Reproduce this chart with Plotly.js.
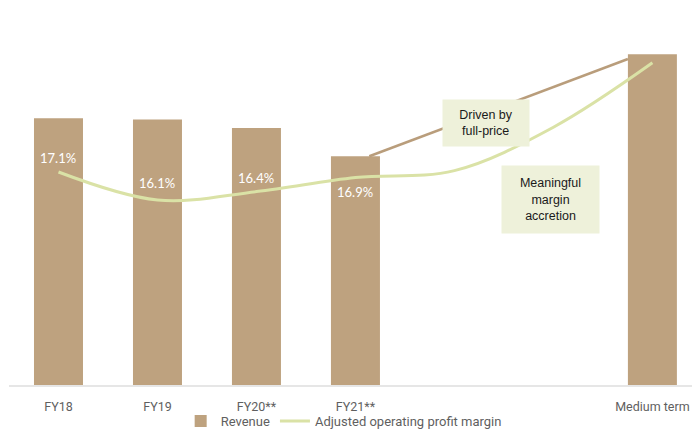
<!DOCTYPE html>
<html>
<head>
<meta charset="utf-8">
<script src="https://cdn.plot.ly/plotly-3.0.1.min.js"></script>
<style>html,body{margin:0;padding:0;background:#fff;}#chart{width:692px;height:429px;}</style>
</head>
<body>
<div id="chart"></div>
<script>
// ---- data ----
const categories = ['FY18', 'FY19', 'FY20**', 'FY21**', '', '', 'Medium term'];
const slots = [0, 1, 2, 3, 4, 5, 6];                        // category slot index
const revenue = [2733, 2720, 2633, 2344, null, null, 3390];   // £m (bar heights)
const margin = [17.1, 16.1, 16.4, 16.9, 17.15, 18.7, 21.0];   // adjusted operating profit margin, % (line as drawn)
const marginLabels = ['17.1%', '16.1%', '16.4%', '16.9%', '', '', ''];
const notes = ['Driven by<br>full-price', 'Meaningful<br>margin<br>accretion'];

// ---- styles ----
const barColor = '#BEA27F';
const lineColor = '#DAE2A6';
const connColor = '#B99D7B';
const labelShift = [14, 17, 14, -14, 0, 0, 0];
const barWidth = 0.495;
const tickVals = slots.filter((s, i) => categories[i] !== '');
const tickText = categories.filter(c => c !== '');

const traces = [
  {
    type: 'bar', name: 'Revenue', x: slots, y: revenue, width: barWidth,
    marker: {color: barColor}, hoverinfo: 'skip'
  },
  {
    type: 'scatter', mode: 'lines', showlegend: false, hoverinfo: 'skip',
    x: [slots[3] + 0.14, slots[6] - barWidth / 2],
    y: [revenue[3], revenue[6] - 50],
    line: {color: connColor, width: 2.5}
  },
  {
    type: 'scatter', mode: 'lines', name: 'Adjusted operating profit margin',
    x: slots, y: margin, yaxis: 'y2', hoverinfo: 'skip',
    line: {color: lineColor, width: 3, shape: 'spline', smoothing: 1}
  }
];

const annotations = [];
for (let i = 0; i < marginLabels.length; i++) {
  if (!marginLabels[i]) continue;
  annotations.push({
    x: slots[i], y: margin[i], xref: 'x', yref: 'y2', text: marginLabels[i],
    showarrow: false, yshift: labelShift[i],
    font: {family: 'Lato, "Open Sans", sans-serif', size: 13, color: '#ffffff'}
  });
}
const boxStyle = {showarrow: false, bgcolor: '#EEF1DA', xref: 'x', yref: 'paper',
  font: {family: '"Liberation Sans", Arial, sans-serif', size: 12.5, color: '#1a1a1a'}};
annotations.push(Object.assign({}, boxStyle, {x: 4.318, y: 0.7836, text: notes[0], width: 84, height: 44}));
annotations.push(Object.assign({}, boxStyle, {x: 4.970, y: 0.508, text: notes[1], width: 95, height: 65}));

const layout = {
  width: 692, height: 429,
  margin: {l: 9, r: 0, t: 20, b: 44, autoexpand: false},
  paper_bgcolor: '#ffffff', plot_bgcolor: '#ffffff',
  showlegend: true,
  legend: {orientation: 'h', x: 0.49, xanchor: 'center', y: -0.058, yanchor: 'top',
    bgcolor: 'rgba(0,0,0,0)',
    font: {family: 'Roboto, sans-serif', size: 13, color: '#5f5f5f'},
    itemwidth: 30, tracegroupgap: 0},
  xaxis: {
    range: [-0.5, 6.4], tickvals: tickVals, ticktext: tickText,
    showgrid: false, zeroline: false, showline: true, linecolor: '#E6E6E6', linewidth: 2,
    ticks: '', ticklabelstandoff: 9,
    tickfont: {family: 'Roboto, sans-serif', size: 12.5, color: '#5f5f5f'},
    fixedrange: true
  },
  yaxis: {range: [0, 3740], visible: false, showgrid: false, zeroline: false, fixedrange: true},
  yaxis2: {range: [9.493, 22.529], overlaying: 'y', visible: false, showgrid: false, zeroline: false, fixedrange: true},
  annotations: annotations,
  bargap: 0.5
};

Plotly.newPlot('chart', traces, layout, {displayModeBar: false, staticPlot: true});
</script>
</body>
</html>
